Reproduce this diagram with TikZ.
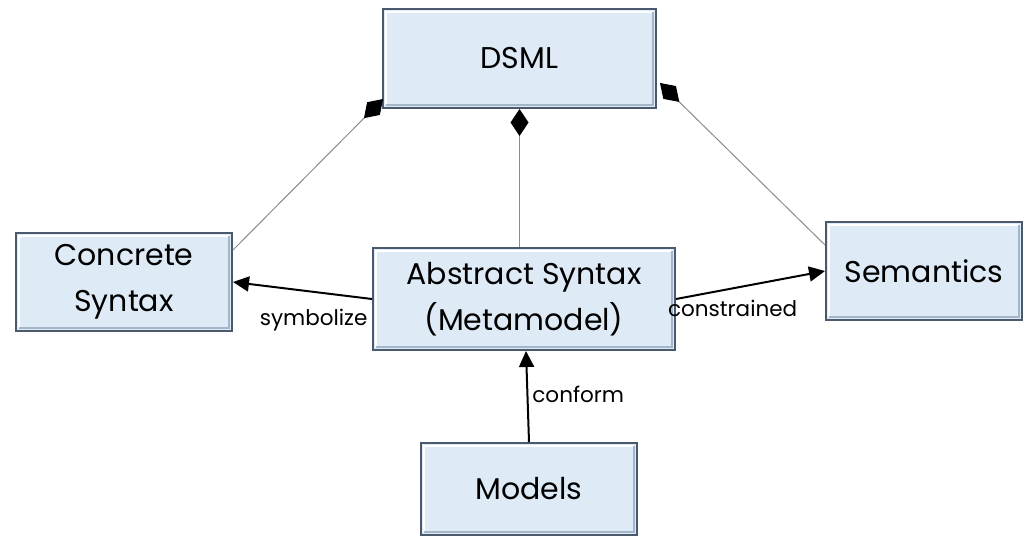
\documentclass[tikz,border=0pt]{standalone}
\usepackage{fontspec}
\setmainfont{Poppins}
\usetikzlibrary{arrows.meta}

\definecolor{boxfill}{HTML}{DEEBF7}
\definecolor{boxedge}{HTML}{4A5A6C}
\definecolor{boxshade}{HTML}{A3B6CA}
\definecolor{complink}{HTML}{8C8C8C}

\tikzset{
  block/.style={
    rectangle, fill=boxfill, draw=boxedge, line width=2pt,
    inner sep=0pt, align=center,
    font=\fontsize{30}{46}\selectfont,
    path picture={
      \draw[white, line width=2.5pt]
        ([xshift=3pt,yshift=3pt]path picture bounding box.south west)
        |- ([xshift=-3pt,yshift=-3pt]path picture bounding box.north east);
      \draw[boxshade, line width=2.5pt]
        ([xshift=3pt,yshift=3pt]path picture bounding box.south west)
        -| ([xshift=-3pt,yshift=-3pt]path picture bounding box.north east);
    }
  },
  comp/.style={draw=complink, line width=1pt,
    {Diamond[length=27pt,width=18pt,fill=black,color=black]}-},
  assoc/.style={draw=black, line width=2pt,
    -{Triangle[length=16pt,width=15pt]}},
  lbl/.style={font=\fontsize{21.5}{24}\selectfont, inner sep=0pt}
}

\begin{document}
\begin{tikzpicture}[x=1pt,y=-1pt]
  \useasboundingbox[fill=white] (0,0) rectangle (1025,539);

  % blocks of the language definition
  \node[block, minimum width=273pt, minimum height=99pt]  (dsml)      at (519.5,58.5) {DSML};
  \node[block, minimum width=216pt, minimum height=98pt]  (concrete)  at (124,282)    {Concrete\\Syntax};
  \node[block, minimum width=302pt, minimum height=102pt] (abstract)  at (524,299)    {Abstract Syntax\\(Metamodel)};
  \node[block, minimum width=196pt, minimum height=98pt]  (semantics) at (924,271)    {Semantics};
  \node[block, minimum width=216pt, minimum height=92pt]  (models)    at (529,489)    {Models};

  % composition links from DSML to its parts
  \coordinate (dsmlL) at ([xshift=1pt,yshift=10pt]dsml.south west);
  \coordinate (dsmlR) at ([xshift=3pt,yshift=26pt]dsml.south east);
  \coordinate (concreteTop) at ([yshift=-18pt]concrete.north east);
  \coordinate (semanticsTop) at ([yshift=26pt]semantics.west);
  \draw[comp] (dsmlL) -- (concreteTop);
  \draw[comp] (dsml.south) -- (dsml.south |- abstract.north);
  \draw[comp] (dsmlR) -- (semanticsTop);

  % associations
  \draw[assoc] (abstract.west) -- (concrete.east)
    node[lbl, pos=0.42, yshift=-28pt] {symbolize};
  \draw[assoc] (abstract.east) -- (semantics.west)
    node[lbl, pos=0.38, yshift=-20pt] {constrained};
  \draw[assoc] (models.north) -- ([xshift=2pt]abstract.south)
    node[lbl, pos=0.52, anchor=west, xshift=4pt] {conform};
\end{tikzpicture}
\end{document}
